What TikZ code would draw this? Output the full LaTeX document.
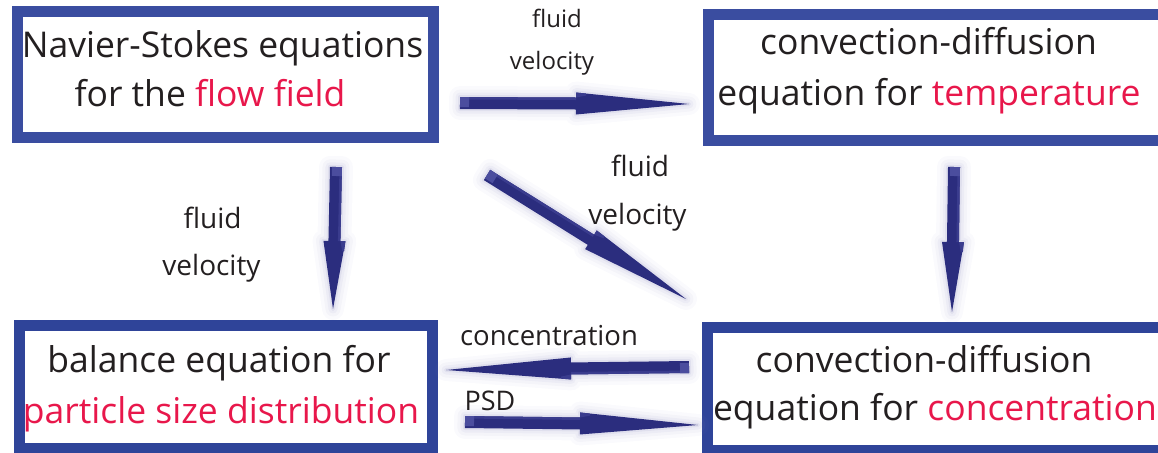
\documentclass[tikz,border=0pt]{standalone}
\usepackage{fontspec}
\setmainfont{Open Sans}
\usetikzlibrary{calc}
\definecolor{boxblue}{HTML}{3A4DA0}
\definecolor{boxblueb}{HTML}{2F4499}
\definecolor{arrowblue}{HTML}{2B2D7E}
\definecolor{arrowlight}{HTML}{4B4D9E}
\definecolor{arrowmid}{HTML}{3A3C8E}
\definecolor{glow}{HTML}{8C8AC0}
\definecolor{hl}{HTML}{E8174B}
\definecolor{ink}{HTML}{231F20}

\tikzset{
  eqbox/.style={draw=boxblue, line width=11pt, rectangle, inner sep=0pt},
  eqline/.style={anchor=base, inner sep=0pt, text=ink, font=\fontsize{35.5}{40}\selectfont},
  lab/.style={anchor=base, inner sep=0pt, text=ink},
}

% outline of a fat arrow in the local frame (needs \fahb, \falen)
\newcommand\faoutline[1]{%
  \path[#1] (0,-6) -- (\fahb,-6) -- (\fahb,-11) -- (\falen,0) -- (\fahb,11) -- (\fahb,6) -- (0,6) -- cycle;}
% #1 head length, #2 start coordinate, #3 end coordinate
\newcommand\fatarrow[3][110]{%
  \path let \p1=(#2), \p2=(#3),
    \n1={atan2(\y2-\y1,\x2-\x1)}, \n2={veclen(\x2-\x1,\y2-\y1)} in
    \pgfextra{\xdef\faang{\n1}\xdef\falen{\n2}};
  \begin{scope}[shift={(#2)}, rotate=\faang]
    \pgfmathsetmacro\fahb{\falen-#1}
    \foreach \w/\o in {22/0.04,15/0.06,9/0.08,4/0.12}{
      \faoutline{draw=glow, line width=\w pt, opacity=\o, line join=round}}
    \faoutline{fill=arrowblue}
    \fill[arrowmid] (0,-6) rectangle (\fahb,-3.5);
    \fill[arrowlight] (0,-6) rectangle (9,4);
    \fill[arrowmid] (\fahb,-11) -- (\fahb+10,-10) -- (\fahb+10,-8) -- (\fahb,-6) -- cycle;
  \end{scope}}

\begin{document}
\begin{tikzpicture}[x=1pt,y=-1pt]
\useasboundingbox (0,0) rectangle (1158,452);
\clip (0,0) rectangle (1158,452);

% boxes
\node[eqbox, minimum width=416pt, minimum height=126pt] (ns) at (225.5,74.5) {};
\node[eqbox, minimum width=462pt, minimum height=125.5pt] (temp) at (939,77.25) {};
\node[eqbox, draw=boxblueb, minimum width=413pt, minimum height=123pt] (psd) at (225.5,386.5) {};
\node[eqbox, draw=boxblueb, minimum width=462.5pt, minimum height=122.5pt] (conc) at (938.75,388.75) {};

% box texts
\node[eqline] (ns1) at (222.5,58) {Navier-Stokes equations};
\node[eqline] (ns2) at (210,106) {for the \textcolor{hl}{flow field}};
\node[eqline] (temp1) at (928.5,55) {convection-diffusion};
\node[eqline] (temp2) at (929,105) {equation for \textcolor{hl}{temperature}};
\node[eqline] (psd1) at (219,372) {balance equation for};
\node[eqline] (psd2) at (221,423) {\textcolor{hl}{particle size distribution}};
\node[eqline] (conc1) at (924,372) {convection-diffusion};
\node[eqline] (conc2) at (935,420) {equation for \textcolor{hl}{concentration}};

% arrow end points
\coordinate (a1s) at (460,103);  \coordinate (a1e) at (689,104);
\coordinate (a2s) at (336,167);  \coordinate (a2e) at (333,309);
\coordinate (a3s) at (487,175);  \coordinate (a3e) at (686,299);
\coordinate (a4s) at (954,167);  \coordinate (a4e) at (952,312);
\coordinate (a5s) at (689,367);  \coordinate (a5e) at (446,370);
\coordinate (a6s) at (465,422);  \coordinate (a6e) at (698,425);

\fatarrow[113]{a1s}{a1e}
\fatarrow[68]{a2s}{a2e}
\fatarrow[112]{a3s}{a3e}
\fatarrow[70]{a4s}{a4e}
\fatarrow[125]{a5s}{a5e}
\fatarrow[118]{a6s}{a6e}

% labels
\node[lab, font=\fontsize{24}{28}\selectfont] (l1a) at (557,28) {fluid};
\node[lab, font=\fontsize{24}{28}\selectfont] (l1b) at (552,69) {velocity};
\node[lab, font=\fontsize{28}{32}\selectfont] (l2a) at (212.5,228) {fluid};
\node[lab, font=\fontsize{28}{32}\selectfont] (l2b) at (211.5,275) {velocity};
\node[lab, font=\fontsize{28}{32}\selectfont] (l3a) at (640,176) {fluid};
\node[lab, font=\fontsize{28}{32}\selectfont] (l3b) at (637.5,224) {velocity};
\node[lab, font=\fontsize{27.5}{32}\selectfont] (l4) at (549,345) {concentration};
\node[lab, font=\fontsize{27}{32}\selectfont] (l5) at (490,410) {PSD};
\end{tikzpicture}
\end{document}
